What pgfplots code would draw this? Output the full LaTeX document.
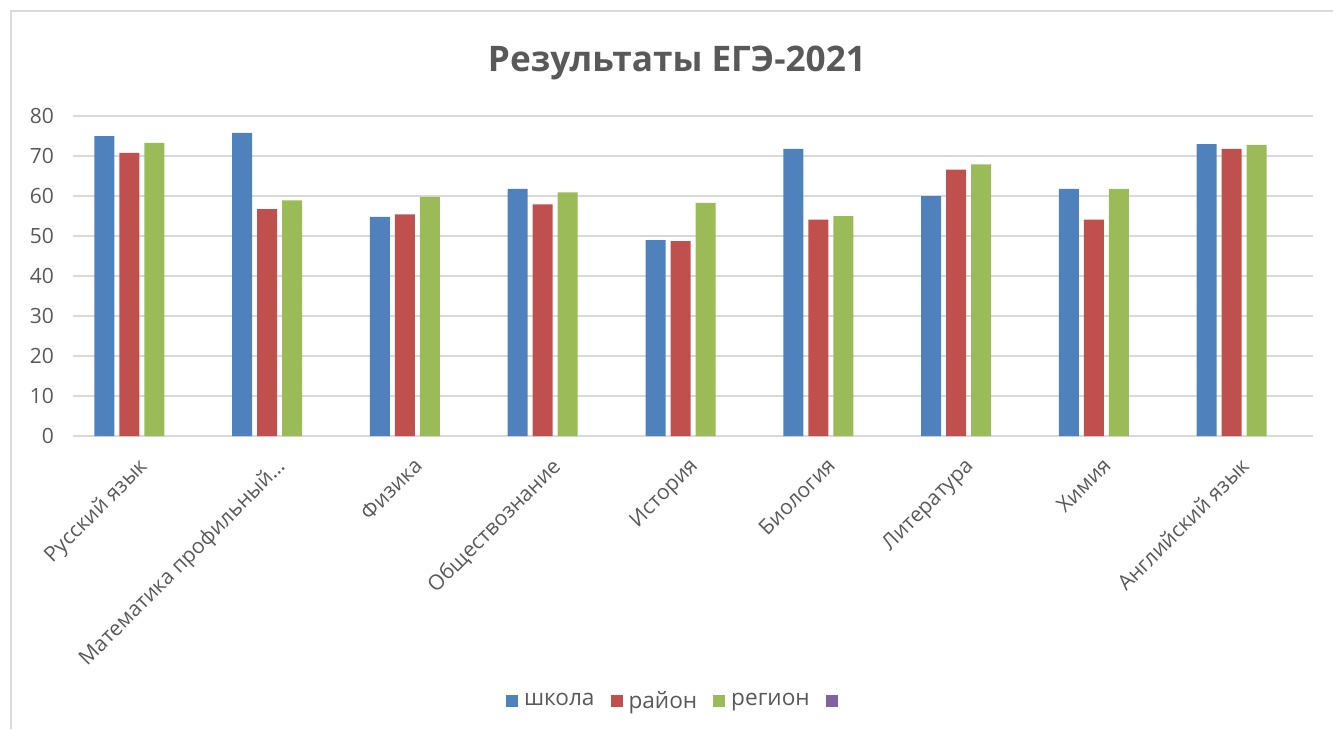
\documentclass[border=0pt]{standalone}
\usepackage{fontspec}
\setmainfont{Open Sans}
\usepackage{pgfplots}
\usepackage{pgfplotstable}
\pgfplotsset{compat=1.18}
\definecolor{cBlue}{HTML}{4F81BD}
\definecolor{cRed}{HTML}{C0504D}
\definecolor{cGreen}{HTML}{9BBB59}
\definecolor{cPurple}{HTML}{8064A2}
\definecolor{cGrid}{HTML}{D9D9D9}
\definecolor{cText}{HTML}{595959}
\pgfplotstableread{
x school raion region
0 75.0 70.8 73.3
1 75.8 56.7 58.9
2 54.8 55.4 59.8
3 61.8 57.9 60.9
4 49.0 48.7 58.3
5 71.8 54.1 55.0
6 60.0 66.6 67.9
7 61.8 54.1 61.8
8 73.0 71.8 72.8
}\data
\begin{document}
\begin{tikzpicture}[x=1pt,y=1pt]
% bounding box: 1 px = 0.5pt, origin at axis lower-left (px 73, 436)
\path[use as bounding box] (-36.5,-146.5) rectangle (630,218);
\draw[cGrid, line width=1pt] (-31,-146.5) -- (-31,212.5) -- (630,212.5);
\node[text=cText, font=\fontsize{17.6}{21}\selectfont\bfseries] at (302,186.5) {Результаты ЕГЭ-2021};
\begin{axis}[
  at={(0,0)}, anchor=south west,
  scale only axis, width=620pt, height=160pt,
  xmin=-0.5, xmax=8.5, ymin=0, ymax=80,
  ytick={0,10,...,80},
  xtick={0,...,8},
  xticklabels={Русский язык, Математика профильный…, Физика, Обществознание, История, Биология, Литература, Химия, Английский язык},
  axis line style={draw=none},
  major tick length=0pt,
  ymajorgrids, grid style={cGrid, line width=0.8pt},
  tick label style={text=cText, font=\fontsize{10.5}{12}\selectfont},
  /pgf/number format/assume math mode=true,
  yticklabel style={xshift=-6pt},
  xticklabel style={rotate=45, anchor=north east, xshift=-5.5pt, yshift=-2pt},
  ybar, bar width=10pt,
  legend style={draw=none, at={(0.487,-0.829)}, anchor=center,
    legend columns=-1, font=\fontsize{11.3}{13}\selectfont, text=cText,
    /tikz/every odd column/.append style={column sep=1pt},
    /tikz/every even column/.append style={column sep=6pt}},
  legend image code/.code={\fill[#1] (0pt,-3pt) rectangle (6pt,3pt);},
]
\addplot[fill=cBlue, draw=none, bar shift=-18.75pt] table[x=x,y=school]{\data};
\addlegendentry{школа}
\addplot[fill=cRed, draw=none, bar shift=-6.25pt] table[x=x,y=raion]{\data};
\addlegendentry{район}
\addplot[fill=cGreen, draw=none, bar shift=6.25pt] table[x=x,y=region]{\data};
\addlegendentry{регион}
\addlegendimage{fill=cPurple, draw=none}
\addlegendentry{}
\end{axis}
\end{tikzpicture}
\end{document}
